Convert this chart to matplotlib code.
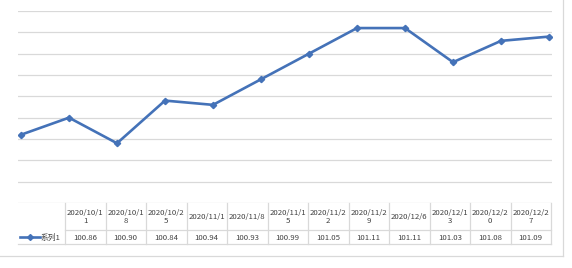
import matplotlib
matplotlib.use("Agg")
import matplotlib.pyplot as plt
from matplotlib.lines import Line2D

plt.rcParams['font.family'] = ['Noto Sans CJK SC', 'DejaVu Sans']

dates = ["2020/10/11", "2020/10/18", "2020/10/25", "2020/11/1", "2020/11/8",
         "2020/11/15", "2020/11/22", "2020/11/29", "2020/12/6", "2020/12/13",
         "2020/12/20", "2020/12/27"]
values = [100.86, 100.90, 100.84, 100.94, 100.93, 100.99,
          101.05, 101.11, 101.11, 101.03, 101.08, 101.09]
series_name = "系列1"

W, H = 572, 268
LINE_COLOR = '#4472B8'
GRID = '#D9D9D9'

fig = plt.figure(figsize=(W / 100, H / 100), dpi=100)

def fx(px):
    return px / W

def fy(py):
    return 1 - py / H

left, right, top, bottom = 18, 552, 11, 203
ax = fig.add_axes([fx(left), fy(bottom), fx(right - left), (bottom - top) / H])
x = list(range(len(values)))
ax.plot(x, values, color=LINE_COLOR, lw=1.9, marker='D', ms=3.2,
        markerfacecolor=LINE_COLOR, markeredgecolor=LINE_COLOR, solid_joinstyle='round')
ax.set_xlim(-0.0625, len(values) - 1 + 0.0625)
ax.set_ylim(100.70, 101.15)
for k in range(10):
    ax.axhline(100.70 + 0.05 * k, color=GRID, lw=0.9, zorder=0)
ax.set_xticks([])
ax.set_yticks([])
for s in ax.spines.values():
    s.set_visible(False)
ax.patch.set_alpha(0)

# data table
tab_left, tab_right = 65, 551
n = len(dates)
cw = (tab_right - tab_left) / n
row0, row1, row2 = 203, 230, 244

def hline(y, x0, x1):
    fig.add_artist(Line2D([fx(x0), fx(x1)], [fy(y), fy(y)], color=GRID, lw=0.9))

def vline(xp, y0, y1):
    fig.add_artist(Line2D([fx(xp), fx(xp)], [fy(y0), fy(y1)], color=GRID, lw=0.9))

hline(row1, tab_left, tab_right)
hline(row2, left, tab_right)
for i in range(n + 1):
    vline(tab_left + i * cw, row0, row2)

fs = 5.6
for i, (d, v) in enumerate(zip(dates, values)):
    cx = tab_left + (i + 0.5) * cw
    label = d if len(d) <= 9 else d[:9] + "\n" + d[9:]
    fig.text(fx(cx), fy((row0 + row1) / 2 + 0.5), label, ha='center', va='center',
             fontsize=fs, color='#404040', linespacing=1.05)
    fig.text(fx(cx), fy((row1 + row2) / 2 + 0.5), f"{v:.2f}", ha='center', va='center',
             fontsize=fs, color='#404040')

# legend key
ky = (row1 + row2) / 2
fig.add_artist(Line2D([fx(20), fx(40)], [fy(ky), fy(ky)], color=LINE_COLOR, lw=1.9))
fig.add_artist(Line2D([fx(30)], [fy(ky)], color=LINE_COLOR, marker='D', ms=3,
                      markerfacecolor=LINE_COLOR, markeredgecolor=LINE_COLOR))
fig.text(fx(40.5), fy(ky + 0.5), series_name, ha='left', va='center', fontsize=fs, color='#404040')

# chart border (right and bottom)
fig.add_artist(Line2D([fx(563), fx(563)], [fy(0), fy(256)], color=GRID, lw=0.9))
fig.add_artist(Line2D([fx(0), fx(563)], [fy(256), fy(256)], color=GRID, lw=0.9))

fig.savefig("out.png", dpi=100)
